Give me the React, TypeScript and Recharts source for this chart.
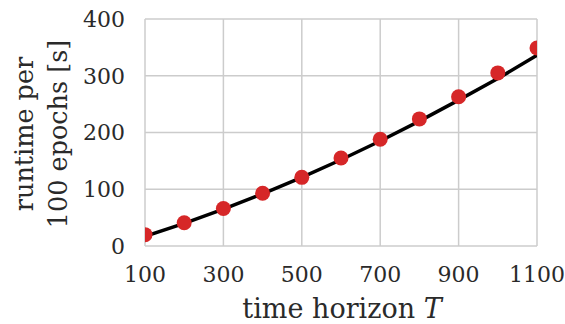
import { ComposedChart, Line, XAxis, YAxis, CartesianGrid } from "recharts";

const horizons = [100, 200, 300, 400, 500, 600, 700, 800, 900, 1000, 1100];
const runtimes = [20, 41, 66, 93, 121, 155, 188, 224, 263, 305, 349];
const fitted = [17, 40, 65, 92, 121, 152, 185, 220, 257, 295, 336];
const xTicks = [100, 300, 500, 700, 900, 1100];
const yTicks = [0, 100, 200, 300, 400];

const data = horizons.map((t, i) => ({ T: t, runtime: runtimes[i], fit: fitted[i] }));

const FONT = "DejaVu Serif";
const INK = "#2a2a2a";
const GRID = "#cccccc";
const RED = "#d62728";

const XTick = (props: any) => (
  <text x={props.x} y={props.y} dy="0.71em" textAnchor="middle" fontFamily={FONT} fontSize={22} fill={INK}>
    {props.payload.value}
  </text>
);

const YTick = (props: any) => (
  <text x={props.x} y={props.y} dy="0.355em" textAnchor="end" fontFamily={FONT} fontSize={22} fill={INK}>
    {props.payload.value}
  </text>
);

const YLabel = () => (
  <text transform="translate(0,134) rotate(-90)" textAnchor="middle" fontFamily={FONT} fontSize={25.5} fill={INK}>
    <tspan x={0} y={33}>runtime per</tspan>
    <tspan x={0} y={67}>100 epochs [s]</tspan>
  </text>
);

const XLabel = () => (
  <text x={342} y={318} textAnchor="middle" fontFamily={FONT} fontSize={27} fill={INK}>
    <tspan>time horizon </tspan>
    <tspan fontStyle="italic">T</tspan>
  </text>
);

export default function App() {
  return (
    <div style={{ position: "fixed", left: 0, top: 0, width: 565, height: 324, background: "#fff" }}>
      <ComposedChart
        width={565}
        height={324}
        data={data}
        margin={{ top: 19, right: 28, bottom: 0, left: 0 }}
      >
        <CartesianGrid stroke={GRID} strokeWidth={1.5} />
        <XAxis
          dataKey="T"
          type="number"
          domain={[100, 1100]}
          ticks={xTicks}
          allowDataOverflow
          axisLine={false}
          tickLine={false}
          tickMargin={14}
          height={78}
          tick={XTick}
          label={{ content: XLabel }}
        />
        <YAxis
          type="number"
          domain={[0, 400]}
          ticks={yTicks}
          allowDataOverflow
          axisLine={false}
          tickLine={false}
          tickMargin={14}
          width={145}
          tick={YTick}
          label={{ content: YLabel }}
        />
        <Line
          dataKey="fit"
          stroke="#000"
          strokeWidth={3.5}
          dot={false}
          isAnimationActive={false}
        />
        <Line
          dataKey="runtime"
          stroke="none"
          dot={{ r: 7.5, fill: RED, stroke: "none" }}
          isAnimationActive={false}
        />
      </ComposedChart>
    </div>
  );
}
